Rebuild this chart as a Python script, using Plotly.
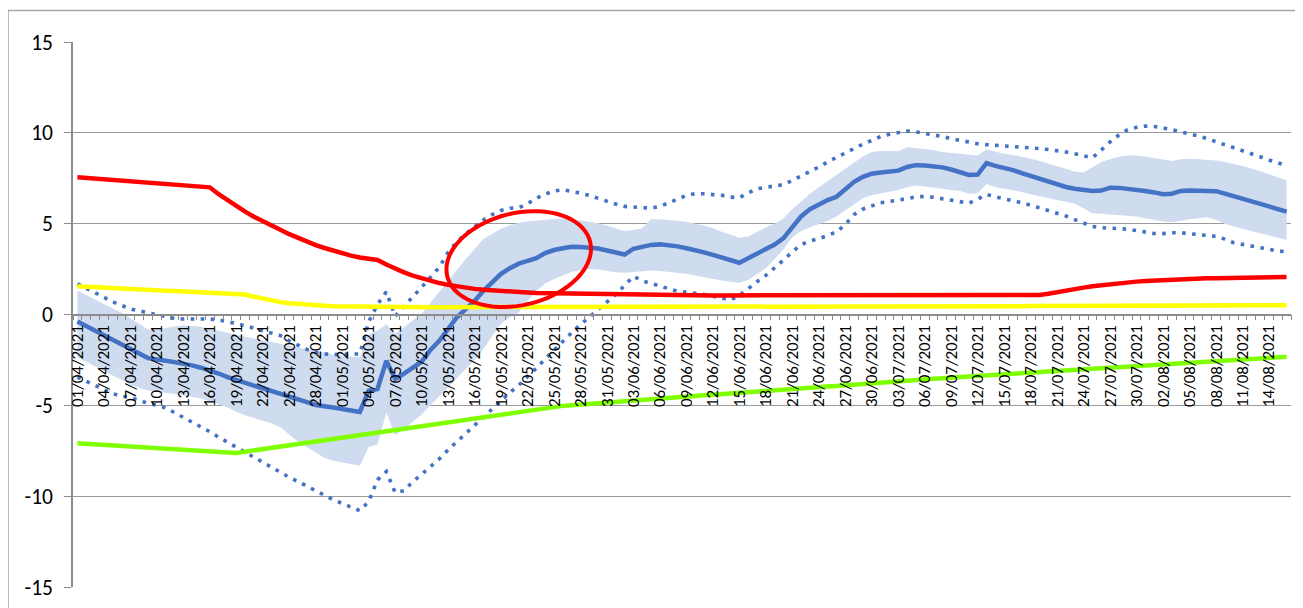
import math
from datetime import date, timedelta
import plotly.graph_objects as go

# ---------------- data ----------------
start = date(2021, 4, 1)
N_DAYS = 138
dates = [(start + timedelta(days=i)).strftime("%d/%m/%Y") for i in range(N_DAYS)]
x_idx = list(range(N_DAYS))

mean_line = [
    -0.39, -0.65, -0.90, -1.15, -1.40, -1.65, -1.90, -2.15, -2.40, -2.50,
    -2.55, -2.62, -2.70, -2.80, -2.93, -3.06, -3.25, -3.45, -3.62, -3.77,
    -3.92, -4.06, -4.20, -4.35, -4.50, -4.65, -4.82, -4.98, -5.08, -5.12,
    -5.20, -5.28, -5.36, -4.20, -4.10, -2.55, -3.55, -3.25, -2.95, -2.60,
    -1.95, -1.45, -0.80, -0.15, 0.30, 0.75, 1.30, 1.80, 2.24, 2.55,
    2.80, 2.95, 3.10, 3.38, 3.55, 3.65, 3.73, 3.72, 3.68, 3.63,
    3.52, 3.40, 3.30, 3.62, 3.75, 3.83, 3.86, 3.82, 3.75, 3.65,
    3.55, 3.42, 3.28, 3.12, 2.97, 2.85, 3.10, 3.35, 3.55, 3.85,
    4.20, 4.85, 5.40, 5.80, 6.05, 6.30, 6.48, 6.90, 7.30, 7.58,
    7.75, 7.82, 7.88, 7.92, 8.12, 8.22, 8.20, 8.15, 8.10, 7.98,
    7.85, 7.68, 7.70, 8.33, 8.18, 8.08, 7.95, 7.78, 7.62, 7.45,
    7.30, 7.15, 7.02, 6.92, 6.85, 6.80, 6.82, 6.98, 6.97, 6.93,
    6.88, 6.80, 6.72, 6.62, 6.65, 6.80, 6.82, 6.80, 6.79, 6.79,
    6.65, 6.52, 6.38, 6.24, 6.10, 5.95, 5.80, 5.66,
]

band_upper = [
    1.32, 1.05, 0.82, 0.58, 0.35, 0.10, -0.20, -0.50, -0.82, -0.82,
    -0.72, -0.66, -0.60, -0.62, -0.68, -0.78, -0.90, -1.02, -1.12, -1.22,
    -1.32, -1.42, -1.52, -1.62, -1.72, -1.80, -1.92, -2.02, -2.12, -2.20,
    -2.26, -2.31, -2.35, -1.10, -0.88, -0.55, -1.05, -0.70, -0.30, 0.05,
    0.65, 1.25, 1.87, 2.45, 3.05, 3.60, 4.15, 4.45, 4.72, 4.90,
    5.05, 5.12, 5.18, 5.22, 5.26, 5.28, 5.25, 5.18, 5.10, 5.02,
    4.88, 4.72, 4.60, 4.65, 4.75, 5.25, 5.25, 5.20, 5.15, 5.10,
    5.00, 4.90, 4.75, 4.55, 4.40, 4.22, 4.30, 4.55, 4.80, 5.00,
    5.30, 5.80, 6.25, 6.65, 7.00, 7.35, 7.70, 8.05, 8.40, 8.70,
    8.94, 9.00, 9.00, 8.98, 9.20, 9.15, 9.10, 9.05, 8.95, 8.90,
    8.85, 8.78, 8.75, 9.08, 8.95, 8.85, 8.78, 8.70, 8.58, 8.45,
    8.32, 8.18, 8.02, 7.86, 7.82, 8.10, 8.40, 8.55, 8.68, 8.75,
    8.75, 8.70, 8.62, 8.52, 8.45, 8.55, 8.58, 8.55, 8.52, 8.48,
    8.40, 8.30, 8.18, 8.04, 7.90, 7.73, 7.55, 7.38,
]

band_lower = [
    -2.35, -2.60, -2.85, -3.10, -3.35, -3.60, -3.85, -4.05, -4.19, -4.25,
    -4.30, -4.38, -4.45, -4.55, -4.62, -4.78, -4.95, -5.12, -5.35, -5.55,
    -5.70, -5.85, -6.00, -6.20, -6.60, -7.00, -7.30, -7.60, -7.90, -8.05,
    -8.15, -8.25, -8.32, -7.30, -7.15, -5.40, -6.65, -6.30, -5.90, -5.50,
    -5.00, -4.50, -4.00, -3.55, -3.00, -2.50, -1.90, -1.20, -0.50, -0.15,
    0.10, 0.75, 1.30, 1.70, 1.95, 2.15, 2.35, 2.45, 2.50, 2.48,
    2.40, 2.33, 2.30, 2.35, 2.40, 2.42, 2.40, 2.35, 2.30, 2.24,
    2.15, 2.05, 1.95, 1.87, 1.80, 1.75, 1.90, 2.25, 2.55, 3.05,
    3.60, 4.25, 4.60, 4.80, 4.98, 5.15, 5.40, 5.75, 6.10, 6.40,
    6.56, 6.65, 6.72, 6.85, 7.00, 7.10, 7.05, 7.00, 6.92, 6.85,
    6.80, 6.65, 6.68, 7.18, 7.00, 6.92, 6.85, 6.75, 6.62, 6.50,
    6.40, 6.30, 6.20, 6.10, 5.85, 5.58, 5.55, 5.52, 5.50, 5.46,
    5.40, 5.30, 5.20, 5.12, 5.08, 5.18, 5.25, 5.30, 5.35, 5.20,
    5.00, 4.85, 4.72, 4.58, 4.45, 4.32, 4.20, 4.10,
]

dotted_upper = [
    1.69, 1.45, 1.20, 0.92, 0.70, 0.50, 0.31, 0.20, 0.10, 0.00,
    -0.12, -0.22, -0.25, -0.25, -0.25, -0.25, -0.30, -0.38, -0.50, -0.62,
    -0.75, -0.88, -1.02, -1.16, -1.45, -1.70, -1.92, -2.08, -2.17, -2.20,
    -2.20, -2.20, -2.17, -0.40, 0.55, 1.25, -0.10, 0.45, 0.95, 1.50,
    2.05, 2.60, 3.43, 4.00, 4.45, 4.85, 5.20, 5.50, 5.73, 5.85,
    5.88, 6.10, 6.40, 6.62, 6.80, 6.87, 6.80, 6.68, 6.55, 6.38,
    6.22, 6.08, 5.95, 5.90, 5.88, 5.86, 5.95, 6.15, 6.37, 6.55,
    6.65, 6.65, 6.60, 6.56, 6.46, 6.43, 6.70, 6.92, 7.00, 7.05,
    7.15, 7.38, 7.62, 7.88, 8.12, 8.40, 8.65, 8.90, 9.15, 9.38,
    9.58, 9.80, 9.92, 10.02, 10.10, 10.05, 9.98, 9.90, 9.80, 9.68,
    9.58, 9.48, 9.40, 9.35, 9.32, 9.30, 9.27, 9.22, 9.18, 9.13,
    9.08, 9.03, 8.95, 8.85, 8.75, 8.63, 9.05, 9.50, 9.88, 10.17,
    10.30, 10.37, 10.35, 10.28, 10.18, 10.05, 9.95, 9.83, 9.68, 9.52,
    9.36, 9.20, 9.03, 8.85, 8.68, 8.50, 8.34, 8.20,
]

dotted_lower = [
    -3.45, -3.68, -3.92, -4.15, -4.35, -4.50, -4.56, -4.75, -4.90, -5.00,
    -5.14, -5.40, -5.65, -5.90, -6.18, -6.45, -6.75, -7.03, -7.30, -7.58,
    -7.85, -8.15, -8.45, -8.70, -8.96, -9.20, -9.45, -9.75, -10.00, -10.20,
    -10.40, -10.60, -10.80, -10.30, -9.10, -8.65, -9.80, -9.70, -9.20, -8.80,
    -8.40, -7.95, -7.45, -7.00, -6.55, -6.10, -5.65, -5.20, -4.70, -4.30,
    -3.90, -3.45, -2.95, -2.45, -1.95, -1.45, -1.00, -0.55, -0.15, 0.30,
    0.65, 1.10, 1.60, 2.10, 1.85, 1.70, 1.55, 1.40, 1.28, 1.22,
    1.17, 1.10, 1.00, 0.90, 0.80, 1.05, 1.45, 1.80, 2.15, 2.55,
    3.00, 3.45, 3.85, 4.05, 4.17, 4.35, 4.55, 4.95, 5.50, 5.80,
    6.00, 6.15, 6.22, 6.28, 6.38, 6.48, 6.50, 6.45, 6.38, 6.32,
    6.20, 6.13, 6.35, 6.61, 6.48, 6.38, 6.28, 6.15, 6.02, 5.88,
    5.70, 5.60, 5.42, 5.22, 5.02, 4.85, 4.78, 4.76, 4.74, 4.70,
    4.62, 4.52, 4.46, 4.45, 4.50, 4.50, 4.46, 4.42, 4.38, 4.30,
    4.15, 3.95, 3.86, 3.76, 3.68, 3.58, 3.50, 3.45,
]

red_line = [
    7.55, 7.51, 7.47, 7.43, 7.40, 7.36, 7.32, 7.29, 7.25, 7.21,
    7.18, 7.15, 7.12, 7.08, 7.04, 7.00, 6.62, 6.28, 5.96, 5.66,
    5.38, 5.12, 4.88, 4.66, 4.42, 4.20, 4.00, 3.82, 3.66, 3.50,
    3.36, 3.24, 3.14, 3.06, 3.00, 2.75, 2.52, 2.32, 2.14, 1.99,
    1.85, 1.73, 1.63, 1.54, 1.47, 1.41, 1.36, 1.32, 1.29, 1.26,
    1.23, 1.21, 1.19, 1.18, 1.17, 1.16, 1.15, 1.15, 1.14, 1.14,
    1.13, 1.12, 1.11, 1.10, 1.09, 1.08, 1.08, 1.07, 1.06, 1.06,
    1.05, 1.05, 1.05, 1.05, 1.05, 1.05, 1.05, 1.05, 1.05, 1.05,
    1.05, 1.06, 1.06, 1.06, 1.06, 1.07, 1.07, 1.07, 1.07, 1.07,
    1.08, 1.08, 1.08, 1.08, 1.08, 1.08, 1.08, 1.08, 1.08, 1.08,
    1.08, 1.08, 1.08, 1.08, 1.08, 1.08, 1.08, 1.08, 1.08, 1.08,
    1.14, 1.24, 1.33, 1.41, 1.48, 1.55, 1.61, 1.67, 1.72, 1.77,
    1.81, 1.84, 1.87, 1.90, 1.92, 1.94, 1.96, 1.97, 1.99, 2.00,
    2.01, 2.02, 2.03, 2.04, 2.05, 2.05, 2.06, 2.06,
]

yellow_line = [
    1.56, 1.53, 1.50, 1.47, 1.45, 1.42, 1.40, 1.37, 1.35, 1.33,
    1.31, 1.29, 1.27, 1.25, 1.23, 1.21, 1.19, 1.17, 1.14, 1.10,
    0.98, 0.86, 0.76, 0.68, 0.62, 0.57, 0.53, 0.50, 0.48, 0.46,
    0.45, 0.44, 0.43, 0.42, 0.42, 0.41, 0.41, 0.40, 0.40, 0.40,
    0.40, 0.40, 0.40, 0.40, 0.40, 0.40, 0.40, 0.40, 0.40, 0.40,
    0.40, 0.40, 0.40, 0.40, 0.40, 0.40, 0.40, 0.40, 0.40, 0.40,
    0.40, 0.40, 0.40, 0.40, 0.40, 0.40, 0.40, 0.40, 0.40, 0.40,
    0.40, 0.40, 0.40, 0.40, 0.40, 0.41, 0.41, 0.41, 0.41, 0.41,
    0.41, 0.41, 0.41, 0.41, 0.41, 0.42, 0.42, 0.42, 0.42, 0.42,
    0.42, 0.42, 0.42, 0.42, 0.42, 0.42, 0.42, 0.42, 0.42, 0.42,
    0.43, 0.43, 0.44, 0.44, 0.45, 0.45, 0.46, 0.46, 0.47, 0.47,
    0.48, 0.48, 0.49, 0.49, 0.50, 0.50, 0.50, 0.51, 0.51, 0.51,
    0.51, 0.51, 0.51, 0.51, 0.51, 0.51, 0.51, 0.51, 0.51, 0.51,
    0.51, 0.51, 0.51, 0.51, 0.51, 0.51, 0.51, 0.51,
]

green_line = [
    -7.09, -7.12, -7.15, -7.18, -7.21, -7.24, -7.27, -7.30, -7.33, -7.36,
    -7.38, -7.41, -7.44, -7.47, -7.50, -7.53, -7.56, -7.59, -7.62, -7.55,
    -7.48, -7.40, -7.33, -7.26, -7.19, -7.12, -7.04, -6.97, -6.90, -6.83,
    -6.76, -6.68, -6.61, -6.54, -6.47, -6.40, -6.32, -6.25, -6.18, -6.11,
    -6.04, -5.96, -5.89, -5.82, -5.75, -5.68, -5.60, -5.53, -5.46, -5.39,
    -5.32, -5.25, -5.18, -5.12, -5.07, -5.03, -4.99, -4.95, -4.91, -4.87,
    -4.84, -4.80, -4.77, -4.73, -4.70, -4.66, -4.63, -4.59, -4.56, -4.52,
    -4.49, -4.45, -4.42, -4.38, -4.35, -4.31, -4.28, -4.24, -4.21, -4.17,
    -4.14, -4.10, -4.07, -4.03, -4.00, -3.96, -3.93, -3.89, -3.86, -3.82,
    -3.79, -3.75, -3.72, -3.68, -3.65, -3.61, -3.58, -3.54, -3.51, -3.47,
    -3.44, -3.41, -3.38, -3.35, -3.32, -3.29, -3.26, -3.23, -3.20, -3.17,
    -3.14, -3.11, -3.08, -3.05, -3.02, -2.99, -2.96, -2.93, -2.90, -2.87,
    -2.84, -2.81, -2.78, -2.75, -2.72, -2.69, -2.66, -2.63, -2.60, -2.57,
    -2.54, -2.51, -2.48, -2.45, -2.42, -2.39, -2.36, -2.33,
]

y_ticks = [-15, -10, -5, 0, 5, 10, 15]
y_tick_text = ["-15", "-10", "-5", "0", "5", "10", "15"]
label_every = 3

# ---------------- styles ----------------
FONT = "Carlito, Calibri, Lato, 'Liberation Sans', sans-serif"
BLUE = "#4472C4"
BAND = "#CFDBEF"
GRID = "#9a9a9a"

fig = go.Figure()

fig.add_trace(go.Scatter(x=x_idx, y=band_lower, mode="lines",
                         line=dict(width=0, color=BAND), hoverinfo="skip",
                         showlegend=False))
fig.add_trace(go.Scatter(x=x_idx, y=band_upper, mode="lines", fill="tonexty",
                         fillcolor=BAND, line=dict(width=0, color=BAND),
                         hoverinfo="skip", showlegend=False))
for series in (dotted_upper, dotted_lower):
    fig.add_trace(go.Scatter(x=x_idx, y=series, mode="lines",
                             line=dict(color=BLUE, width=3.6, dash="3.6px,6.4px"),
                             showlegend=False))
fig.add_trace(go.Scatter(x=x_idx, y=mean_line, mode="lines",
                         line=dict(color=BLUE, width=4.5), showlegend=False))
fig.add_trace(go.Scatter(x=x_idx, y=green_line, mode="lines",
                         line=dict(color="#80FF00", width=4.5), showlegend=False))
fig.add_trace(go.Scatter(x=x_idx, y=yellow_line, mode="lines",
                         line=dict(color="#FFFF00", width=4.5), showlegend=False))
fig.add_trace(go.Scatter(x=x_idx, y=red_line, mode="lines",
                         line=dict(color="#FF0000", width=4.5), showlegend=False))

# ---------------- layout geometry ----------------
# the page body has an 8 px margin, so the figure origin sits at (8, 8) on screen
W, H = 1303, 608
ML, MR, MT, MB = 65, 20, 34, 29
plot_w = W - ML - MR
plot_h = H - MT - MB
x_range = [-0.5, N_DAYS - 0.5]
y_range = [-15, 15]
px_per_day = plot_w / (x_range[1] - x_range[0])
px_per_unit = plot_h / (y_range[1] - y_range[0])

# red hand-drawn ellipse (rotated), defined in pixel units around a data centre
ell_cx, ell_cy = 50.0, 3.05
ell_a, ell_b, ell_phi = 73.5, 46.0, math.radians(13.5)
pts = []
for k in range(73):
    t = 2 * math.pi * k / 72
    dx = ell_a * math.cos(t) * math.cos(ell_phi) - ell_b * math.sin(t) * math.sin(ell_phi)
    dy = ell_a * math.cos(t) * math.sin(ell_phi) + ell_b * math.sin(t) * math.cos(ell_phi)
    pts.append((ell_cx + dx / px_per_day, ell_cy + dy / px_per_unit))
path = "M " + " L ".join(f"{px:.4f},{py:.4f}" for px, py in pts) + " Z"
fig.add_shape(type="path", path=path, xref="x", yref="y",
              line=dict(color="#FF0000", width=4), layer="above")

# outer chart-area border (as in the spreadsheet export)
fig.add_shape(type="rect", xref="paper", yref="paper",
              x0=(0.0 - ML) / plot_w, x1=1.2,
              y0=-0.3, y1=1 + (MT - 2.5) / plot_h,
              line=dict(color="#a6a6a6", width=1.5), layer="below")

fig.update_layout(
    width=W, height=H,
    margin=dict(l=ML, r=MR, t=MT, b=MB, pad=0, autoexpand=False),
    paper_bgcolor="white", plot_bgcolor="white",
    showlegend=False,
    font=dict(family=FONT, color="#000000"),
    xaxis=dict(
        range=x_range, anchor="free", position=0.5, automargin=False,
        showline=True, linecolor="#8c8c8c", linewidth=1.5,
        showgrid=False, zeroline=False,
        tickmode="array", tickvals=x_idx[::label_every],
        ticktext=dates[::label_every], tickangle=-90,
        ticks="outside", ticklen=3, tickcolor="rgba(0,0,0,0)",
        tickfont=dict(family=FONT, size=17, color="#000000"),
        minor=dict(tickmode="array",
                   tickvals=[i - 0.5 for i in range(N_DAYS + 1)],
                   ticks="outside", ticklen=5, tickwidth=1,
                   tickcolor="#8c8c8c", showgrid=False),
    ),
    yaxis=dict(
        range=y_range, tickmode="array", tickvals=y_ticks, ticktext=y_tick_text,
        automargin=False,
        showline=True, linecolor="#8c8c8c", linewidth=1.5,
        ticks="outside", ticklen=7, tickcolor="#8c8c8c",
        showgrid=True, gridcolor=GRID, gridwidth=1.3, zeroline=False,
        tickfont=dict(family=FONT, size=21.5, color="#000000"),
        ticklabelstandoff=7,
    ),
)

fig.write_html("out.html")
